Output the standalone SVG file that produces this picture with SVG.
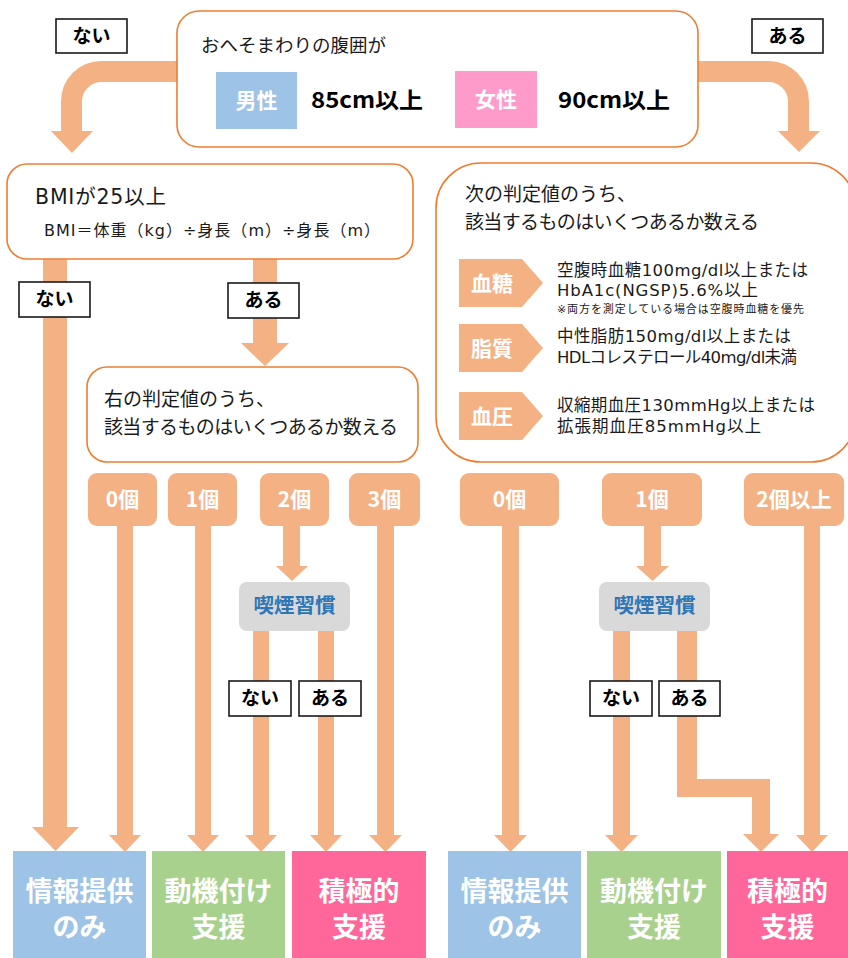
<svg xmlns="http://www.w3.org/2000/svg" width="848" height="958" viewBox="0 0 848 958">
<style>
text{font-family:"Noto Sans CJK JP","Noto Sans",sans-serif;}
.arr{fill:#F4B183;}
.band{fill:none;stroke:#F4B183;stroke-width:21;}
.box{fill:#fff;stroke:#ED7D31;stroke-width:1.6;}
.lbl{fill:#fff;stroke:#1a1a1a;stroke-width:1.6;}
.lt{font-size:19px;font-weight:bold;fill:#000;text-anchor:middle;}
.cnt{fill:#F4B183;}
.ct{font-size:21px;font-weight:bold;fill:#fff;text-anchor:middle;}
.smk{fill:#D9D9D9;}
.st{font-size:20.5px;font-weight:bold;fill:#2E75B6;text-anchor:middle;}
.res{font-size:27px;font-weight:bold;fill:#fff;text-anchor:middle;}
.tag{fill:#F4B183;}
.tt{font-size:21px;font-weight:bold;fill:#fff;text-anchor:middle;}
.body{font-family:"DejaVu Sans","Noto Sans CJK JP",sans-serif;fill:#1a1a1a;}
.main{fill:#1a1a1a;}
.big{font-weight:bold;fill:#000;}
</style>
<g id="connectors">
<path class="band" d="M180,71.5 H101.5 A30,30 0 0 0 71.5,101.5 V132"/>
<polygon class="arr" points="51,131 93,131 72,153"/>
<path class="band" d="M695,71.5 H768.5 A30,30 0 0 1 798.5,101.5 V132"/>
<polygon class="arr" points="778,131 820,131 799,152"/>
<rect class="arr" x="43" y="258" width="24" height="570"/>
<polygon class="arr" points="32,827 79,827 55.5,851"/>
<rect class="arr" x="253" y="258" width="24" height="86"/>
<polygon class="arr" points="241,343 289,343 265,366"/>
<rect class="arr" x="117" y="525" width="16" height="311"/>
<polygon class="arr" points="109,835 141,835 125,852"/>
<rect class="arr" x="195" y="525" width="16" height="311"/>
<polygon class="arr" points="187,835 219,835 203,852"/>
<rect class="arr" x="283" y="525" width="17" height="42"/>
<polygon class="arr" points="276,566 308,566 292,581"/>
<rect class="arr" x="377" y="525" width="17" height="311"/>
<polygon class="arr" points="369,835 402,835 385.5,852"/>
<rect class="arr" x="253" y="630" width="16" height="206"/>
<polygon class="arr" points="245,835 277,835 261,852"/>
<rect class="arr" x="318" y="630" width="16" height="206"/>
<polygon class="arr" points="310,835 342,835 326,852"/>
<rect class="arr" x="502" y="525" width="17" height="311"/>
<polygon class="arr" points="494,835 527,835 510.5,852"/>
<rect class="arr" x="644" y="525" width="17" height="42"/>
<polygon class="arr" points="636,566 669,566 652.5,581"/>
<rect class="arr" x="613" y="630" width="17" height="206"/>
<polygon class="arr" points="605,835 638,835 621.5,852"/>
<polygon class="arr" points="677,630 697,630 697,779 770,779 770,835 752,835 752,797 677,797"/>
<polygon class="arr" points="743,834 779,834 761,852"/>
<rect class="arr" x="804" y="525" width="16" height="311"/>
<polygon class="arr" points="796,835 828,835 812,852"/>
</g>
<g id="waist">
<rect class="box" x="177" y="11" width="521" height="136" rx="22"/>
<text class="main" x="201" y="52" style="font-size:18.5px">おへそまわりの腹囲が</text>
<rect x="216" y="72" width="81" height="57" fill="#9DC3E6"/>
<text x="256.5" y="108" font-size="21" font-weight="bold" fill="#fff" text-anchor="middle">男性</text>
<text class="big" x="311" y="108" style="font-size:22px" textLength="112" lengthAdjust="spacingAndGlyphs">85cm以上</text>
<rect x="455" y="71" width="82" height="57" fill="#FF9BCB"/>
<text x="496" y="107" font-size="21" font-weight="bold" fill="#fff" text-anchor="middle">女性</text>
<text class="big" x="558" y="108" style="font-size:22px" textLength="112" lengthAdjust="spacingAndGlyphs">90cm以上</text>
</g>
<g id="label-top-no"><rect class="lbl" x="56" y="19" width="71" height="34"/><text class="lt" x="91.5" y="43">ない</text></g>
<g id="label-top-yes"><rect class="lbl" x="752" y="19" width="71" height="34"/><text class="lt" x="787.5" y="43">ある</text></g>
<g id="bmi">
<rect class="box" x="7" y="164" width="406" height="95" rx="20"/>
<text class="body" x="35" y="204" style="font-size:20.5px" textLength="131">BMIが25以上</text>
<text class="body" x="44" y="236" style="font-size:16px" textLength="336">BMI＝体重（kg）÷身長（m）÷身長（m）</text>
</g>
<g id="label-bmi-no"><rect class="lbl" x="19" y="282" width="71" height="35"/><text class="lt" x="54.5" y="306">ない</text></g>
<g id="label-bmi-yes"><rect class="lbl" x="228" y="283" width="71" height="35"/><text class="lt" x="263.5" y="307">ある</text></g>
<g id="count-left">
<rect class="box" x="87" y="367" width="331" height="95" rx="20"/>
<text class="main" x="104" y="406" style="font-size:19px">右の判定値のうち、</text>
<text class="main" x="104" y="434" style="font-size:19px" textLength="294">該当するものはいくつあるか数える</text>
</g>
<g id="count-right">
<rect class="box" x="436" y="163" width="420" height="299" rx="45"/>
<text class="main" x="465" y="201" style="font-size:19px">次の判定値のうち、</text>
<text class="main" x="465" y="229" style="font-size:19px" textLength="294">該当するものはいくつあるか数える</text>
<polygon class="tag" points="459,259 522,259 543,283 522,307 459,307"/>
<text class="tt" x="492" y="291">血糖</text>
<text class="body" x="557" y="276" style="font-size:16.5px" textLength="251">空腹時血糖100mg/dl以上または</text>
<text class="body" x="557" y="296" style="font-size:16.5px" textLength="201">HbA1c(NGSP)5.6%以上</text>
<text class="body" x="557" y="313" style="font-size:11px" textLength="247">※両方を測定している場合は空腹時血糖を優先</text>
<polygon class="tag" points="459,324 522,324 543,348 522,372 459,372"/>
<text class="tt" x="492" y="356">脂質</text>
<text class="body" x="557" y="342" style="font-size:16.5px" textLength="234">中性脂肪150mg/dl以上または</text>
<text class="body" x="557" y="363" style="font-size:16.5px" textLength="240">HDLコレステロール40mg/dl未満</text>
<polygon class="tag" points="459,392 522,392 543,416 522,440 459,440"/>
<text class="tt" x="492" y="424">血圧</text>
<text class="body" x="557" y="411" style="font-size:16.5px" textLength="258">収縮期血圧130mmHg以上または</text>
<text class="body" x="557" y="432" style="font-size:16.5px" textLength="204">拡張期血圧85mmHg以上</text>
</g>
<g id="c0-left"><rect class="cnt" x="88" y="473" width="69" height="53" rx="9"/><text class="ct" x="122.5" y="507">0個</text></g>
<g id="c1-left"><rect class="cnt" x="168" y="473" width="69" height="53" rx="9"/><text class="ct" x="202.5" y="507">1個</text></g>
<g id="c2-left"><rect class="cnt" x="260" y="473" width="69" height="53" rx="9"/><text class="ct" x="294.5" y="507">2個</text></g>
<g id="c3-left"><rect class="cnt" x="349" y="473" width="71" height="53" rx="9"/><text class="ct" x="384.5" y="507">3個</text></g>
<g id="c0-right"><rect class="cnt" x="460" y="473" width="99" height="53" rx="9"/><text class="ct" x="509.5" y="507">0個</text></g>
<g id="c1-right"><rect class="cnt" x="602" y="473" width="100" height="53" rx="9"/><text class="ct" x="652" y="507">1個</text></g>
<g id="c2-right"><rect class="cnt" x="744" y="473" width="100" height="53" rx="9"/><text class="ct" x="794" y="507">2個以上</text></g>
<g id="smoke-left"><rect class="smk" x="239" y="582" width="111" height="49" rx="8"/><text class="st" x="294.5" y="613">喫煙習慣</text></g>
<g id="smoke-right"><rect class="smk" x="599" y="582" width="111" height="49" rx="8"/><text class="st" x="654.5" y="613">喫煙習慣</text></g>
<g id="label-sl-no"><rect class="lbl" x="229" y="681" width="62" height="35"/><text class="lt" x="260" y="705">ない</text></g>
<g id="label-sl-yes"><rect class="lbl" x="299" y="681" width="62" height="35"/><text class="lt" x="330" y="705">ある</text></g>
<g id="label-sr-no"><rect class="lbl" x="590" y="681" width="62" height="35"/><text class="lt" x="621" y="705">ない</text></g>
<g id="label-sr-yes"><rect class="lbl" x="659" y="681" width="61" height="35"/><text class="lt" x="689.5" y="705">ある</text></g>
<g id="res-info-left"><rect x="13" y="851" width="133" height="107" fill="#9DC3E6"/><text class="res" x="79.5" y="901">情報提供</text><text class="res" x="79.5" y="937">のみ</text></g>
<g id="res-motiv-left"><rect x="152" y="851" width="133" height="107" fill="#A9D18E"/><text class="res" x="218.5" y="901">動機付け</text><text class="res" x="218.5" y="937">支援</text></g>
<g id="res-active-left"><rect x="292" y="851" width="134" height="107" fill="#FF6699"/><text class="res" x="359" y="901">積極的</text><text class="res" x="359" y="937">支援</text></g>
<g id="res-info-right"><rect x="448" y="851" width="133" height="107" fill="#9DC3E6"/><text class="res" x="514.5" y="901">情報提供</text><text class="res" x="514.5" y="937">のみ</text></g>
<g id="res-motiv-right"><rect x="587" y="851" width="134" height="107" fill="#A9D18E"/><text class="res" x="654" y="901">動機付け</text><text class="res" x="654" y="937">支援</text></g>
<g id="res-active-right"><rect x="727" y="851" width="121" height="107" fill="#FF6699"/><text class="res" x="787.5" y="901">積極的</text><text class="res" x="787.5" y="937">支援</text></g>
</svg>
